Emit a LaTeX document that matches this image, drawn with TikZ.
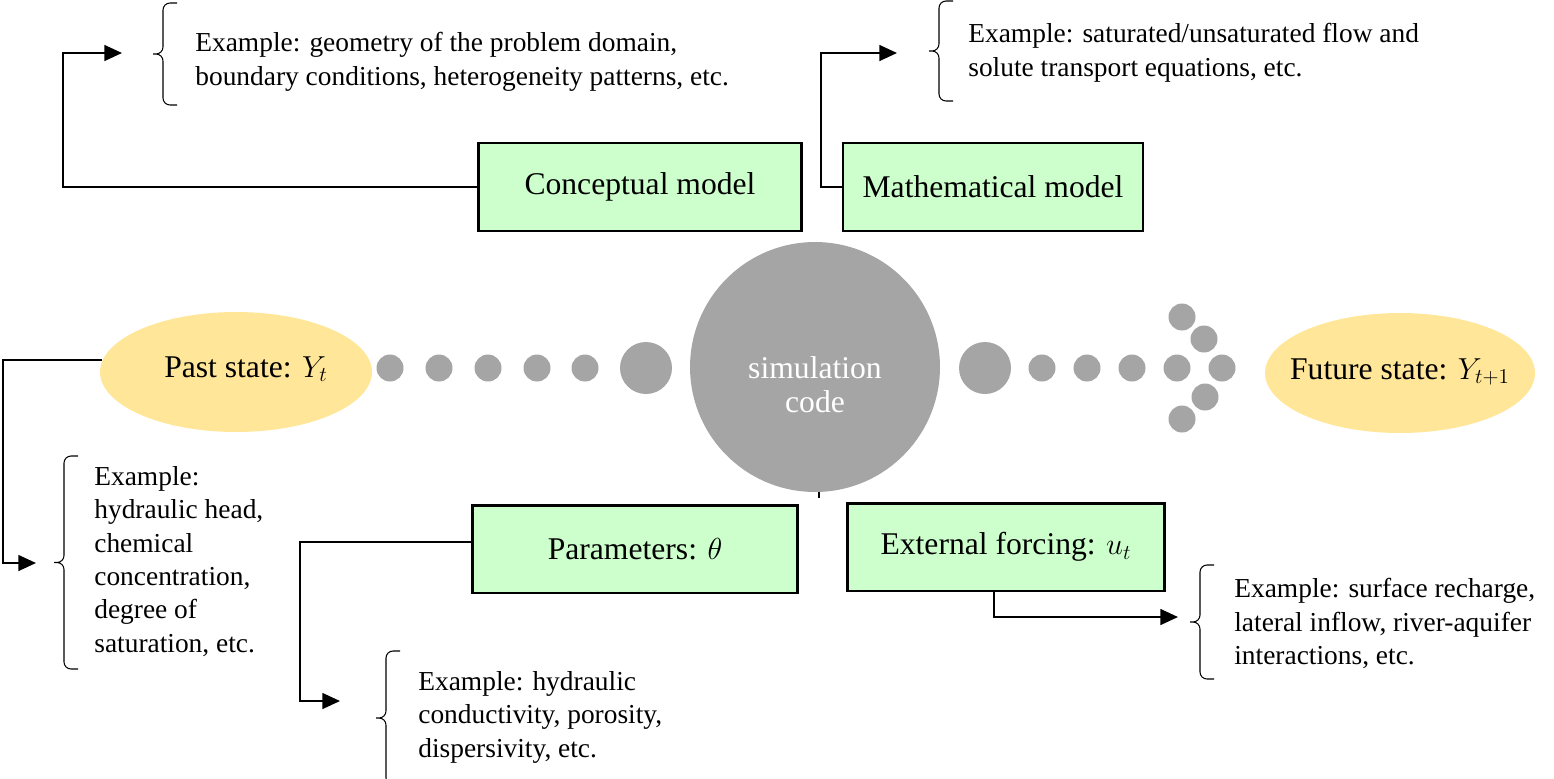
\documentclass[tikz,border=0pt]{standalone}
\usepackage{fontspec}
\setmainfont{Liberation Serif}
\usetikzlibrary{arrows.meta,shapes.geometric}

\definecolor{boxgreen}{HTML}{CCFFCC}
\definecolor{stateyellow}{HTML}{FFE699}
\definecolor{dotgray}{HTML}{A5A5A5}

\newcommand{\labelfont}{\fontsize{18}{22}\selectfont}
\newcommand{\exfont}{\fontsize{15.6}{19}\selectfont}

\tikzset{
	modelbox/.style={draw, line width=1.4pt, fill=boxgreen, minimum height=1.75cm, inner sep=0pt, font=\labelfont},
	statenode/.style={ellipse, fill=stateyellow, minimum width=5.44cm, minimum height=2.4cm, inner sep=0pt},
	statetext/.style={inner sep=0pt, font=\labelfont},
	smalldot/.style={circle, fill=dotgray, minimum size=0.54cm, inner sep=0pt},
	bigdot/.style={circle, fill=dotgray, minimum size=1.04cm, inner sep=0pt},
	extext/.style={anchor=north west, align=left, inner sep=0pt, font=\exfont},
	link/.style={line width=1pt, -{Triangle[length=10pt, width=9pt]}},
	exbrace/.style={line width=0.6pt, rounded corners=4pt},
}

\begin{document}
\begin{tikzpicture}[x=0.02cm, y=-0.02cm]
\useasboundingbox (0,0) rectangle (1554,778);

	%% Modell-Boxen
	\node[modelbox, minimum width=6.46cm] (concept) at (640,187) {Conceptual model};
	\node[modelbox, minimum width=6.0cm] (math) at (993,187) {Mathematical model};
	\node[modelbox, minimum width=6.5cm] (param) at (635,549) {Parameters: $\theta$};
	\node[modelbox, minimum width=6.34cm] (ext) at (1006,547) {External forcing: $u_t$};

	%% Zustaende
	\node[statenode] (past) at (236,372) {};
	\node[statetext] (pasttxt) at (246,369) {Past state: $Y_t$};
	\node[statenode, minimum width=5.4cm] (future) at (1400,373) {};
	\node[statetext] (futuretxt) at (1400,372) {Future state: $Y_{t+1}$};

	%% Simulation
	\node[circle, fill=dotgray, minimum size=5cm, inner sep=0pt] (sim) at (815,367) {};
	\node[align=center, text=white, font=\fontsize{18}{19.2}\selectfont] (simtxt) at ([yshift=-10pt]sim.center) {simulation\\code};
	\draw[line width=0.8pt] ([xshift=2.3pt]sim.south) -- ++(0,6);

	%% Punkte
	\foreach \x [count=\i] in {390,439,488,537,585}
		\node[smalldot] (pd\i) at (\x,368) {};
	\node[bigdot] (pbig) at (646,368) {};
	\node[bigdot] (fbig) at (985,368) {};
	\foreach \x [count=\i] in {1042,1087,1132,1177,1222}
		\node[smalldot] (fd\i) at (\x,368) {};
	\foreach \p [count=\i] in {{1182,317},{1204,339},{1205,397},{1182,419}}
		\node[smalldot] (fa\i) at (\p) {};
	%%%%%%%%%%%%%%%%

	%% Beispiele
	\node[extext] (geoex) at (195,32) {Example: geometry of the problem domain,\\boundary conditions, heterogeneity patterns, etc.};
	\node[extext] (mathex) at (968,23) {Example: saturated/unsaturated flow and\\solute transport equations, etc.};
	\node[extext] (pastex) at (94,466) {Example:\\hydraulic head,\\chemical\\concentration,\\degree of\\saturation, etc.};
	\node[extext] (paramex) at (418,671) {Example: hydraulic\\conductivity, porosity,\\dispersivity, etc.};
	\node[extext] (extex) at (1234,578) {Example: surface recharge,\\lateral inflow, river-aquifer\\interactions, etc.};

	%% Klammern
	\foreach \bx/\btop/\bbot in {177/3/105, 953/1/101, 78/456/669, 400/651/785, 1214/565/679} {
		\pgfmathsetmacro{\bmid}{(\btop+\bbot)/2}
		\draw[exbrace] (\bx,\btop) -- (\bx-14,\btop) -- (\bx-14,\bmid) -- (\bx-28,\bmid)
			-- (\bx-14,\bmid) -- (\bx-14,\bbot) -- (\bx,\bbot);
	}

	%% Pfeile
	\coordinate (geoin) at (122,53);
	\coordinate (mathin) at (897,53);
	\coordinate (pastin) at (36,563);
	\coordinate (paramin) at (340,701);
	\coordinate (extin) at (1178,617);

	\draw[link] (concept.west) -| (63,53) -- (geoin);
	\draw[link] (math.west) -| (821,53) -- (mathin);
	\draw[link] (past.175) -| (3,563) -- (pastin);
	\draw[link] ([yshift=4pt]param.west) -| (300,701) -- (paramin);
	\draw[link] ([xshift=-7pt]ext.south) |- (extin);

%\draw (current bounding box.south west) rectangle (current bounding box.north east);
\end{tikzpicture}
\end{document}
